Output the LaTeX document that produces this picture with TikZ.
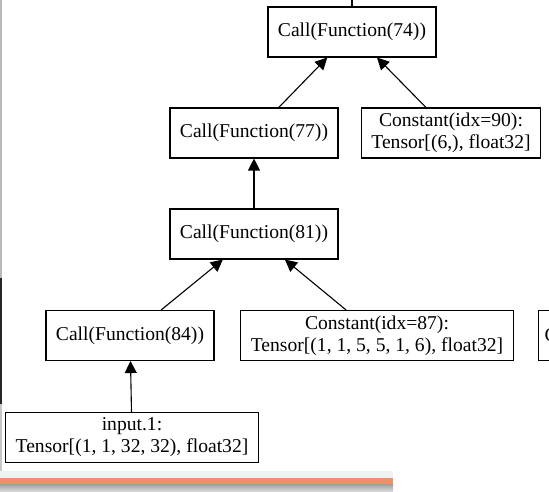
\documentclass[tikz,border=0pt]{standalone}
\usepackage{fontspec}
\setmainfont{Liberation Serif}
\usetikzlibrary{arrows.meta}
\definecolor{barorange}{HTML}{F0906A}
\tikzset{
  opbox/.style={draw, line width=1.1pt, inner xsep=10pt, minimum height=50pt,
    align=center, font=\fontsize{19.6}{22}\selectfont},
  dep/.style={line width=1.1pt, -{Triangle[length=12pt,width=12pt]}}
}
\begin{document}
\begin{tikzpicture}[x=1pt,y=-1pt]
\useasboundingbox (0,0) rectangle (549,492);
\fill[white] (0,0) rectangle (549,492);
% window edges
\fill[gray!55] (0,0) rectangle (2,278);
\fill[black!85] (0,278) rectangle (2,404);
\fill[gray!45] (0,404) rectangle (2,471);
\fill[gray!10] (0,471) rectangle (393,478);
\fill[barorange] (0,478) rectangle (393,484);
\shade[top color=gray!75, bottom color=gray!25] (0,484) rectangle (393,492);
\begin{scope}
\clip (0,0) rectangle (549,492);
\node[opbox] (f74) at (352,32) {Call(Function(74))};
\node[opbox] (f77) at (254,133) {Call(Function(77))};
\node[opbox] (c90) at (451,133) {Constant(idx=90):\\Tensor[(6,), float32]};
\node[opbox] (f81) at (254,234) {Call(Function(81))};
\node[opbox] (f84) at (130,335.5) {Call(Function(84))};
\node[opbox] (c87) at (377,335.5) {Constant(idx=87):\\Tensor[(1, 1, 5, 5, 1, 6), float32]};
\node[opbox] (in1) at (132,437.5) {input.1:\\Tensor[(1, 1, 32, 32), float32]};
\node[opbox, anchor=west, inner xsep=6pt, text width=40pt, align=left] (cut) at (538,335.5) {C};
\coordinate (up) at (352,0);
\draw[line width=1.1pt] (f74) -- (up);
\draw[dep] (f77) -- (f74);
\draw[dep] (c90) -- (f74);
\draw[dep] (f81) -- (f77);
\draw[dep] (f84) -- (f81);
\draw[dep] (c87) -- (f81);
\draw[dep] (in1) -- (f84);
\end{scope}
\end{tikzpicture}
\end{document}
